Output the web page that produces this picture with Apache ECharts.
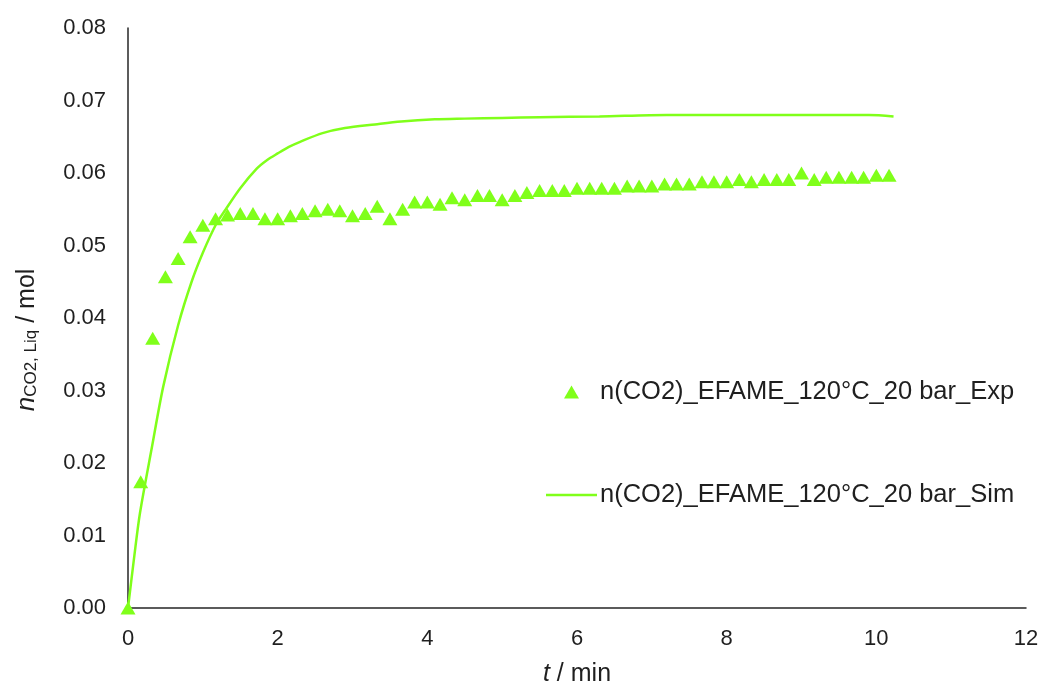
<!DOCTYPE html>
<html>
<head>
<meta charset="utf-8">
<script src="https://cdn.jsdelivr.net/npm/echarts@6/dist/echarts.min.js"></script>
<style>
html,body{margin:0;padding:0;background:#fff;}
#chart{width:1047px;height:684px;}
</style>
</head>
<body>
<div id="chart"></div>
<script>
// ---- data ----
var expName = 'n(CO2)_EFAME_120°C_20 bar_Exp';
var simName = 'n(CO2)_EFAME_120°C_20 bar_Sim';
var expT = [0,0.17,0.33,0.5,0.67,0.83,1,1.17,1.33,1.5,1.67,1.83,2,2.17,2.33,2.5,2.67,2.83,3,3.17,3.33,3.5,3.67,3.83,4,4.17,4.33,4.5,4.67,4.83,5,5.17,5.33,5.5,5.67,5.83,6,6.17,6.33,6.5,6.67,6.83,7,7.17,7.33,7.5,7.67,7.83,8,8.17,8.33,8.5,8.67,8.83,9,9.17,9.33,9.5,9.67,9.83,10,10.17];
var expN = [0,0.0174,0.0372,0.0457,0.0482,0.0512,0.0528,0.0537,0.0542,0.0544,0.0544,0.0537,0.0537,0.0541,0.0544,0.0548,0.0550,0.0548,0.0541,0.0544,0.0554,0.0537,0.0550,0.0560,0.0560,0.0557,0.0566,0.0563,0.0569,0.0569,0.0563,0.0569,0.0573,0.0576,0.0576,0.0576,0.0579,0.0579,0.0579,0.0579,0.0582,0.0582,0.0582,0.0585,0.0585,0.0585,0.0588,0.0588,0.0588,0.0591,0.0588,0.0591,0.0591,0.0591,0.0600,0.0591,0.0594,0.0594,0.0594,0.0594,0.0597,0.0597];
var simT = [0,0.08,0.16,0.32,0.47,0.67,0.85,1.0,1.18,1.3,1.5,1.72,1.86,2.0,2.15,2.3,2.6,2.9,3.3,3.65,4.1,4.5,5.0,5.5,6.3,7.2,8.5,9.9,10.23];
var simN = [0,0.0068,0.0131,0.0222,0.0305,0.0390,0.0450,0.0490,0.0530,0.0549,0.0579,0.0606,0.0618,0.0627,0.0636,0.0643,0.0655,0.0662,0.0667,0.0671,0.0674,0.0675,0.0676,0.0677,0.0678,0.0680,0.0680,0.0680,0.0678];
var xTicks = {min: 0, max: 12, interval: 2};
var yTicks = {min: 0, max: 0.08, interval: 0.01};

var green = '#80ff1a';
var axisColor = '#262626';
var textColor = '#1f1f1f';
var fontFam = '"Liberation Sans", Arial, sans-serif';

var expData = expT.map(function (t, i) { return [t, expN[i]]; });
var simData = simT.map(function (t, i) { return [t, simN[i]]; });

var chart = echarts.init(document.getElementById('chart'), null, {renderer: 'canvas'});
chart.setOption({
  animation: false,
  backgroundColor: '#ffffff',
  textStyle: {fontFamily: fontFam, color: textColor},
  grid: {left: 128, right: 21, top: 28, bottom: 76, containLabel: false, outerBoundsMode: 'none'},
  xAxis: {
    type: 'value',
    min: xTicks.min, max: xTicks.max, interval: xTicks.interval,
    axisLine: {show: true, onZero: false, lineStyle: {color: axisColor, width: 1.5}},
    axisTick: {show: false},
    splitLine: {show: false},
    axisLabel: {color: textColor, fontSize: 22, margin: 20, fontFamily: fontFam},
    name: '{i|t} / min',
    nameLocation: 'middle',
    nameGap: 54,
    nameTextStyle: {
      color: textColor, fontSize: 25, fontFamily: fontFam,
      rich: {i: {fontStyle: 'italic', fontSize: 25, color: textColor, fontFamily: fontFam}}
    }
  },
  yAxis: {
    type: 'value',
    min: yTicks.min, max: yTicks.max, interval: yTicks.interval,
    axisLine: {show: true, onZero: false, lineStyle: {color: axisColor, width: 1.5}},
    axisTick: {show: false},
    splitLine: {show: false},
    axisLabel: {
      color: textColor, fontSize: 22, margin: 22, fontFamily: fontFam,
      formatter: function (v) { return v.toFixed(2); }
    },
    name: '{i|n}{s|CO2, Liq}{r| / mol}',
    nameLocation: 'middle',
    nameGap: 88,
    nameRotate: 90,
    nameTextStyle: {
      color: textColor, fontSize: 25, fontFamily: fontFam,
      padding: [0, 44, 0, 0],
      rich: {
        i: {fontStyle: 'italic', fontSize: 26, color: textColor, fontFamily: fontFam, verticalAlign: 'bottom', lineHeight: 30},
        s: {fontSize: 17, color: textColor, fontFamily: fontFam, verticalAlign: 'bottom', lineHeight: 20},
        r: {fontSize: 25, color: textColor, fontFamily: fontFam, verticalAlign: 'bottom', lineHeight: 30}
      }
    }
  },
  legend: [
    {
      data: [{name: expName, icon: 'triangle'}],
      orient: 'vertical',
      left: 564, top: 379,
      padding: 0,
      itemWidth: 15, itemHeight: 13,
      textStyle: {fontSize: 25.5, color: textColor, fontFamily: fontFam, padding: [0, 0, 0, 16]}
    },
    {
      data: [{name: simName, icon: 'rect'}],
      orient: 'vertical',
      left: 546, top: 482,
      padding: 0,
      itemWidth: 51, itemHeight: 2.5,
      textStyle: {fontSize: 25.5, color: textColor, fontFamily: fontFam, padding: [0, 0, 0, -2]}
    }
  ],
  series: [
    {
      name: simName,
      type: 'line',
      data: simData,
      smooth: 0.3,
      showSymbol: false,
      symbol: 'none',
      lineStyle: {color: green, width: 2.5},
      itemStyle: {color: green},
      z: 2
    },
    {
      name: expName,
      type: 'scatter',
      data: expData,
      symbol: 'triangle',
      symbolSize: [15, 13],
      itemStyle: {color: green, opacity: 1},
      z: 3
    }
  ]
});
</script>
</body>
</html>
